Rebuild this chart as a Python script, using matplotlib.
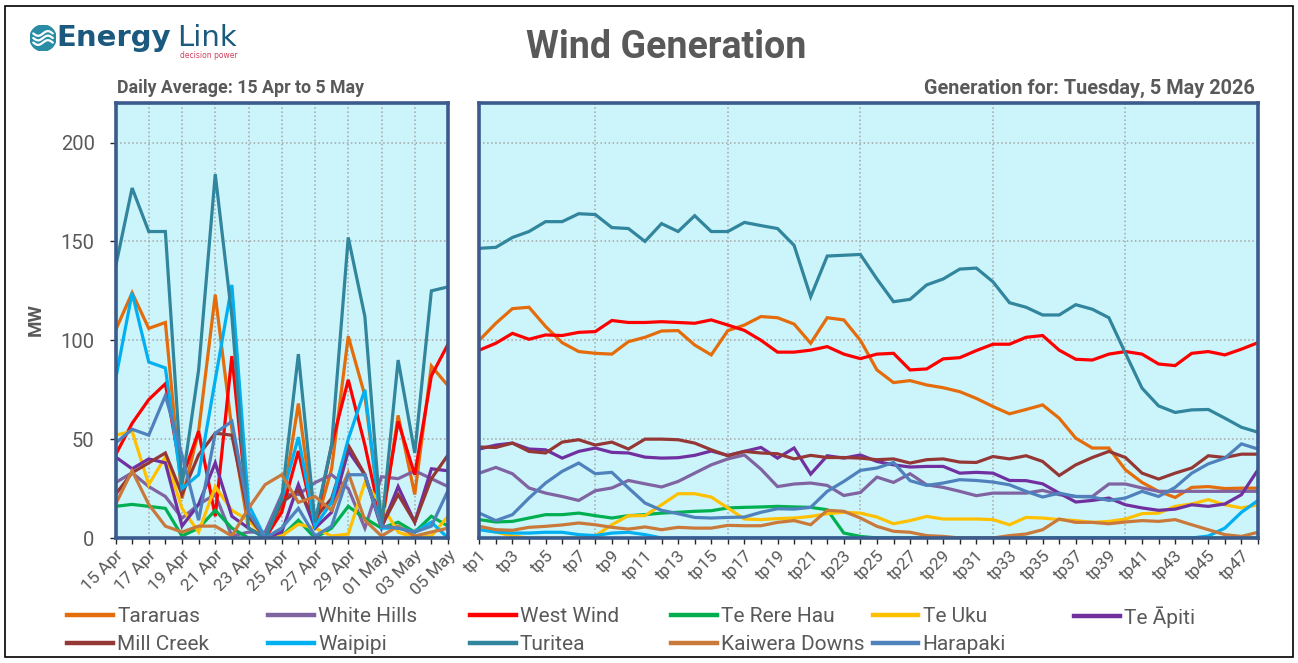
#!/usr/bin/env python3
"""Wind Generation — daily average + trading-period generation, Energy Link style."""

import matplotlib

matplotlib.use('Agg')
import matplotlib.font_manager as fm
import matplotlib.pyplot as plt
import numpy as np
from matplotlib.lines import Line2D
from matplotlib.patches import Circle, Rectangle

# ── Fonts ─────────────────────────────────────────────────────────────────────
_names = {f.name for f in fm.fontManager.ttflist}
MAIN_FONT = 'Roboto' if 'Roboto' in _names else 'DejaVu Sans'
NARROW_FONT = 'Liberation Sans Narrow' if 'Liberation Sans Narrow' in _names else MAIN_FONT
plt.rcParams['font.family'] = [MAIN_FONT, 'DejaVu Sans']

# ── Data ──────────────────────────────────────────────────────────────────────
DAYS = ['15 Apr', '16 Apr', '17 Apr', '18 Apr', '19 Apr', '20 Apr', '21 Apr',
        '22 Apr', '23 Apr', '24 Apr', '25 Apr', '26 Apr', '27 Apr', '28 Apr',
        '29 Apr', '30 Apr', '01 May', '02 May', '03 May', '04 May', '05 May']
TPS = [f'tp{i}' for i in range(1, 49)]

SERIES = ['Tararuas', 'White Hills', 'West Wind', 'Te Rere Hau', 'Te Uku', 'Te Āpiti',
          'Mill Creek', 'Waipipi', 'Turitea', 'Kaiwera Downs', 'Harapaki']
COLORS = ['#E46C0A', '#8064A2', '#FF0000', '#00B050', '#FFC000', '#7030A0',
          '#953735', '#00B0F0', '#31859C', '#C97A3A', '#4F81BD']

# daily averages (MW), 15 Apr .. 5 May
D_TARARUAS = [105, 124, 106, 109, 20, 54, 123, 55, 5, 0, 15, 68, 5, 35, 102, 72, 5, 62, 22, 87, 77]
D_WHITEHILLS = [28, 33, 26, 21, 10, 17, 22, 1, 3, 3, 22, 22, 28, 32, 25, 5, 31, 30, 34, 30, 26]
D_WESTWIND = [42, 58, 70, 78, 30, 54, 11, 92, 10, 0, 13, 44, 6, 47, 80, 47, 8, 59, 32, 82, 98]
D_TEREREHAU = [16, 17, 16, 15, 1, 5, 14, 5, 0, 0, 1, 9, 0, 5, 16, 10, 5, 8, 3, 11, 6]
D_TEUKU = [52, 54, 27, 41, 15, 3, 26, 14, 9, 0, 1, 7, 5, 1, 2, 28, 17, 3, 0, 1, 11]
D_TEAPITI = [41, 35, 40, 38, 6, 17, 38, 11, 5, 0, 3, 27, 5, 13, 44, 32, 5, 26, 8, 35, 34]
D_MILLCREEK = [22, 33, 38, 43, 22, 42, 53, 52, 11, 0, 18, 24, 10, 20, 47, 32, 6, 22, 8, 30, 42]
D_WAIPIPI = [80, 124, 89, 86, 25, 32, 80, 128, 17, 0, 20, 51, 6, 18, 50, 75, 5, 5, 3, 8, 0]
D_TURITEA = [137, 177, 155, 155, 27, 85, 184, 112, 5, 0, 20, 93, 8, 47, 152, 112, 5, 90, 43, 125, 127]
D_KAIWERA = [17, 34, 17, 6, 3, 6, 6, 1, 15, 27, 32, 18, 21, 14, 33, 9, 1, 6, 1, 3, 5]
D_HARAPAKI = [48, 55, 52, 72, 42, 9, 53, 59, 13, 0, 5, 15, 1, 6, 32, 32, 6, 5, 3, 6, 24]

# generation by trading period (MW), tp1 .. tp48
T_TARARUAS = [100, 108.6, 116, 116.7, 107, 98.8, 94.3, 93.4, 93, 99.3, 101.5, 104.7,
              104.9, 97.6, 92.6, 104.9, 107.7, 112, 111.4, 108.2, 98.5, 111.4, 110.3, 100,
              85, 78.6, 79.6, 77.4, 76, 74, 70.6, 66.5, 62.8, 65, 67.3, 60.6,
              50.5, 45.5, 45.5, 34.5, 28.1, 23.6, 20.5, 25.6, 26, 25, 25.2, 25.2]
T_WHITEHILLS = [32.8, 35.7, 32.5, 25.3, 22.7, 21, 19, 23.9, 25.3, 29.1, 27.4, 25.8,
                28.6, 32.8, 37, 40, 42, 34.8, 26, 27.3, 27.8, 26.6, 21.5, 23,
                30.8, 28.1, 32.5, 26.9, 25.6, 23.6, 21.4, 22.7, 22.7, 22.7, 24.1, 21.9,
                21, 21, 27.3, 27.3, 25.3, 23.6, 23.6, 23.6, 23.6, 23.6, 23.6, 23.6]
T_WESTWIND = [95, 98.5, 103.5, 100.5, 102.7, 102.4, 104, 104.4, 110, 109, 109, 109.4,
              109, 108.6, 110.3, 107.7, 105, 100, 94, 94, 95, 96.8, 93, 90.7,
              93, 93.4, 85, 85.5, 90.6, 91.2, 94.8, 98, 98, 101.5, 102.4, 95,
              90.4, 90, 93, 94.3, 93, 88, 87.2, 93.4, 94.3, 92.6, 95.5, 98.8]
T_TEREREHAU = [9.3, 8.1, 8.4, 10.1, 11.8, 11.8, 12.6, 11.3, 10.1, 11.3, 11.8, 12.6,
               13, 13.5, 13.8, 15.2, 15.5, 15.7, 16, 15.7, 15.5, 14.3, 2.5, 0.8,
               0, 0, 0, 0, 0, 0, 0, 0, 0, 0, 0, 0,
               0, 0, 0, 0, 0, 0, 0, 0, 0, 0, 0, 0]
T_TEUKU = [5, 3, 1, 0, 0, 0, 0, 1, 6.7, 11.3, 11.3, 16.8,
           22.4, 22.4, 20.7, 15.2, 9.6, 9.3, 9.8, 10.1, 10.9, 12.3, 13, 12.6,
           10.6, 7.2, 8.8, 10.9, 9.6, 9.6, 9.6, 9.3, 6.7, 10.4, 10.1, 9.3,
           8.8, 7.9, 8.4, 9.6, 12.3, 12.6, 16, 17.2, 19.4, 16.8, 15.2, 16.8]
T_TEAPITI = [45, 47, 48, 45, 44.6, 40.4, 43.8, 45.5, 43.3, 43, 40.9, 40.4,
             40.6, 41.8, 44, 41.8, 43.8, 45.8, 40.4, 45.5, 32.3, 41.6, 40.4, 42,
             38.7, 37, 35.9, 36.2, 36.2, 32.8, 33.2, 32.8, 29.1, 29, 27.4, 22.7,
             18.2, 19, 20.2, 16.8, 15.2, 14, 14.6, 16.8, 16, 17.2, 21.9, 34.5]
T_MILLCREEK = [46, 45.8, 48, 43.8, 43, 48.5, 49.7, 47, 48.5, 45, 50, 50,
               49.7, 48, 44.6, 41.6, 43.8, 43, 42.6, 40, 41.8, 40.7, 40.7, 40.4,
               39.6, 40, 37.9, 39.6, 40, 38.4, 38.2, 41.2, 40, 41.6, 38.7, 31.6,
               37, 40.7, 43.8, 40.7, 32.8, 29.8, 32.8, 35.4, 41.6, 40.7, 42.4, 42.4]
T_WAIPIPI = [4.2, 3, 2.5, 2.5, 2.9, 2.9, 1.7, 1.2, 2.5, 2.9, 1.7, 0,
             0, 0, 0, 0, 0, 0, 0, 0, 0, 0, 0, 0,
             0, 0, 0, 0, 0, 0, 0, 0, 0, 0, 0, 0,
             0, 0, 0, 0, 0, 0, 0, 0, 1, 5, 13, 19]
T_TURITEA = [146.5, 147, 152, 155, 160, 160, 164, 163.6, 157, 156.5, 150, 159,
             155, 163, 155, 155, 159.6, 158, 156.5, 148, 122, 142.6, 143, 143.4,
             131, 119.5, 120.7, 128, 131, 136, 136.5, 129.6, 119, 116.7, 112.8, 112.8,
             118, 115.7, 111.4, 93.4, 75.8, 66.8, 63.5, 64.8, 65, 60.6, 56, 53.5]
T_KAIWERA = [5.9, 4.2, 3.9, 5.4, 5.9, 6.6, 7.6, 6.7, 5.4, 4.5, 5.6, 4.2,
             5.4, 5, 5, 6.4, 6.2, 6.2, 7.9, 8.8, 6.7, 14, 13.5, 10.1,
             5.9, 3.4, 2.9, 1.2, 0.8, 0, 0, 0, 1.2, 2, 4.2, 9.6,
             7.9, 7.9, 7.2, 8.1, 8.8, 8.4, 9.3, 6.7, 4.2, 1.7, 0.8, 2.9]
T_HARAPAKI = [12.6, 8.8, 11.8, 20.2, 27.8, 33.7, 37.9, 32.5, 33.2, 25.3, 17.7, 14,
              12.3, 10.4, 10.1, 10.4, 10.6, 13, 14.8, 14.6, 15.5, 23.6, 28.6, 34.2,
              35.4, 38.2, 29, 26.6, 27.8, 29.5, 29.1, 28.3, 26.9, 23.6, 20.7, 22.7,
              21, 20.7, 19, 20.2, 23.6, 21, 25.6, 32.8, 37.5, 40.4, 47.6, 45]

DAILY = [D_TARARUAS, D_WHITEHILLS, D_WESTWIND, D_TEREREHAU, D_TEUKU, D_TEAPITI,
         D_MILLCREEK, D_WAIPIPI, D_TURITEA, D_KAIWERA, D_HARAPAKI]
BY_TP = [T_TARARUAS, T_WHITEHILLS, T_WESTWIND, T_TEREREHAU, T_TEUKU, T_TEAPITI,
         T_MILLCREEK, T_WAIPIPI, T_TURITEA, T_KAIWERA, T_HARAPAKI]

Y_TICKS = [0, 50, 100, 150, 200]
LEFT_VGRID = [2, 4, 6, 8, 10, 12, 14, 16, 18]
RIGHT_VGRID = [8, 16, 24, 32, 40]

# ── Style ─────────────────────────────────────────────────────────────────────
W_PX, H_PX = 1298, 663
PANEL_BG = '#CCF4FB'
SPINE = '#3B5B8C'
GRID = '#A6A6A6'
TXT = '#595959'
LW = 2.3


def fx(px):
    return px / W_PX


def fy(py):
    return 1 - py / H_PX


fig = plt.figure(figsize=(W_PX / 100, H_PX / 100), dpi=100)
fig.patch.set_facecolor('white')

# outer frame
fig.add_artist(Rectangle((fx(5), fy(657)), fx(1293) - fx(5), fy(6) - fy(657),
                         transform=fig.transFigure, fill=False, edgecolor='black', lw=1.2))

TOP, BOT = 103, 538
ax_l = fig.add_axes([fx(115.5), fy(BOT), fx(448) - fx(115.5), fy(TOP) - fy(BOT)])
ax_r = fig.add_axes([fx(479.3), fy(BOT), fx(1258) - fx(479.3), fy(TOP) - fy(BOT)])


def style_panel(ax, vgrid):
    ax.set_facecolor(PANEL_BG)
    ax.set_ylim(0, 220)
    ax.set_yticks(Y_TICKS)
    ax.yaxis.grid(True, linestyle=':', color=GRID, lw=1.1)
    for v in vgrid:
        ax.axvline(v, linestyle=':', color=GRID, lw=1.1, zorder=0.5)
    ax.set_axisbelow(True)
    for s in ax.spines.values():
        s.set_color(SPINE)
        s.set_linewidth(2.6)
    ax.tick_params(axis='x', direction='out', length=4, width=1, color='#262626',
                   labelsize=12.5, labelcolor=TXT, pad=3)


# ── Left: daily averages ─────────────────────────────────────────────────────
xd = np.arange(len(DAYS))
for name, vals, c in zip(SERIES, DAILY, COLORS):
    ax_l.plot(xd, vals, color=c, lw=LW, solid_joinstyle='miter', label=name)
style_panel(ax_l, LEFT_VGRID)
ax_l.set_xlim(0, len(DAYS) - 1)
ax_l.set_xticks(xd)
ax_l.set_xticklabels([d if i % 2 == 0 else '' for i, d in enumerate(DAYS)],
                     rotation=45, ha='right', rotation_mode='anchor')
ax_l.tick_params(axis='y', direction='out', length=4, width=1, color='#262626',
                 labelsize=14.5, labelcolor=TXT, pad=11)
fig.text(fx(36), fy(320), 'MW', rotation=90, ha='center', va='center',
         fontsize=13.5, fontweight='bold', color=TXT)

# ── Right: by trading period ─────────────────────────────────────────────────
xt = np.arange(1, len(TPS) + 1)
for name, vals, c in zip(SERIES, BY_TP, COLORS):
    ax_r.plot(xt, vals, color=c, lw=LW, solid_joinstyle='miter')
style_panel(ax_r, RIGHT_VGRID)
ax_r.set_xlim(1, len(TPS))
ax_r.set_xticks(xt)
ax_r.set_xticklabels([t if i % 2 == 0 else '' for i, t in enumerate(TPS)],
                     rotation=45, ha='right', rotation_mode='anchor')
ax_r.tick_params(axis='y', left=False, labelleft=False)

# ── Titles ────────────────────────────────────────────────────────────────────
fig.text(fx(666), fy(48), 'Wind Generation', ha='center', va='center',
         fontsize=27, fontweight='bold', color=TXT)
fig.text(fx(117), fy(88), 'Daily Average: 15 Apr to 5 May', ha='left', va='center',
         fontsize=12.8, fontweight='bold', color=TXT)
fig.text(fx(1255), fy(88), 'Generation for: Tuesday, 5 May 2026', ha='right', va='center',
         fontsize=14.3, fontweight='bold', color=TXT)

# ── Logo ─────────────────────────────────────────────────────────────────────
lax = fig.add_axes([fx(30), fy(51), fx(26), fy(25) - fy(51)])
lax.set_xlim(-1, 1)
lax.set_ylim(-1, 1)
lax.set_aspect('equal')
lax.axis('off')
lax.add_patch(Circle((0, 0), 1, color='#2A8DA6'))
t = np.linspace(-0.75, 0.75, 40)
for off in (-0.35, 0.0, 0.35):
    lax.plot(t, off + 0.18 * np.sin(t * 4.2), color='white', lw=1.6,
             solid_capstyle='round')
fig.text(fx(56), fy(38), 'Energy', ha='left', va='center', fontsize=21,
         fontweight='bold', color='#1B5A7E', family='DejaVu Sans')
fig.text(fx(177), fy(38), 'Link', ha='left', va='center', fontsize=21,
         color='#1B5A7E', family='DejaVu Sans')
fig.text(fx(180), fy(55), 'decision power', ha='left', va='center', fontsize=5.5,
         color='#D0405E', family='DejaVu Sans')

# ── Legend (row-major, evenly spaced like the source) ───────────────────────
COL_X0, COL_DX = 67, 201.4
ROW_Y = [617, 645]
for i, (name, c) in enumerate(zip(SERIES, COLORS)):
    r, col = divmod(i, 6)
    h = Line2D([], [], color=c, lw=3.2)
    fig.legend(handles=[h], labels=[name], loc='center left',
               bbox_to_anchor=(fx(COL_X0 + col * COL_DX), fy(ROW_Y[r])),
               frameon=False, borderpad=0, borderaxespad=0, handlelength=2.2,
               handletextpad=0.2,
               prop=fm.FontProperties(family=NARROW_FONT, size=15))
for leg in fig.legends:
    for txt in leg.get_texts():
        txt.set_color(TXT)

fig.savefig('out.png', dpi=100, facecolor='white')
